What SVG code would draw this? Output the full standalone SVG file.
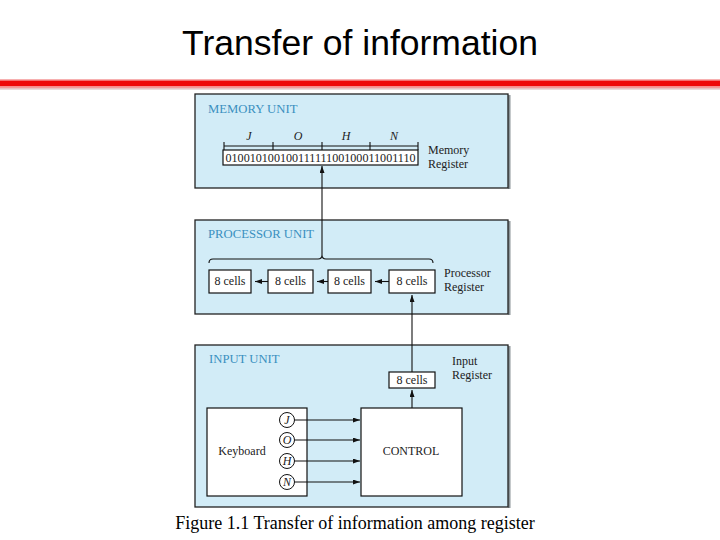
<svg xmlns="http://www.w3.org/2000/svg" width="720" height="540" viewBox="0 0 720 540">
<defs>
<marker id="ah" markerWidth="7" markerHeight="5" refX="7" refY="2.5" orient="auto" markerUnits="userSpaceOnUse"><path d="M0,0 L7,2.5 L0,5 Z" fill="#111"/></marker>
<style>
.unit{fill:#d2ecf7;stroke:#222;stroke-width:1.3}
.shadow{fill:#8c9498}
.ulabel{font-family:"Liberation Serif",serif;font-size:12.7px;fill:#3a90c0}
.box{fill:#fff;stroke:#111;stroke-width:1.2}
.t{font-family:"Liberation Serif",serif;font-size:12px;fill:#222}
.tc{font-family:"Liberation Serif",serif;font-size:12px;fill:#222;text-anchor:middle}
.it{font-family:"Liberation Serif",serif;font-size:12px;font-style:italic;fill:#222;text-anchor:middle}
.ln{stroke:#111;stroke-width:1.1;fill:none}
.title{font-family:"Liberation Sans",Arial,sans-serif;font-size:35.5px;fill:#000;text-anchor:middle}
.cap{font-family:"Liberation Serif",serif;font-size:18px;fill:#000;text-anchor:middle}
</style>
</defs>
<rect width="720" height="540" fill="#fff"/>
<text class="title" x="360" y="55">Transfer of information</text>
<rect x="0" y="79" width="720" height="1.5" fill="#f7b0b0"/>
<rect x="0" y="80.5" width="720" height="6" fill="#ee0a0a"/>
<rect x="0" y="86.5" width="720" height="2" fill="#f39a9a"/>
<rect x="0" y="88.5" width="720" height="1" fill="#d8b8b8"/>

<g id="memory-unit">
<rect class="shadow" x="508" y="95" width="2.5" height="94"/>
<rect class="unit" x="195" y="94" width="313" height="94"/>
<text class="ulabel" x="208" y="113">MEMORY UNIT</text>
</g>
<g id="memory-register">
<rect class="box" x="223" y="150" width="195" height="15"/>
<text class="t" x="225.5" y="162" textLength="190" lengthAdjust="spacingAndGlyphs">01001010010011111100100011001110</text>
<path class="ln" d="M224,146 H418 M224,142 V150 M273,142 V150 M322,142 V150 M370,142 V150 M418,142 V150"/>
<text class="it" x="249" y="140">J</text>
<text class="it" x="298" y="140">O</text>
<text class="it" x="346" y="140">H</text>
<text class="it" x="394" y="140">N</text>
<text class="t" x="428" y="154">Memory</text>
<text class="t" x="428" y="168">Register</text>
</g>

<g id="processor-unit">
<rect class="shadow" x="508" y="221" width="2.5" height="94"/>
<rect class="unit" x="195" y="220" width="313" height="94"/>
<text class="ulabel" x="208" y="238">PROCESSOR UNIT</text>
</g>
<g id="processor-register">
<path class="ln" d="M209,263 Q209,259 213,259 H318 Q322,259 322,255 Q322,259 326,259 H429 Q433,259 433,263"/>
<rect class="box" x="209" y="270" width="42" height="23"/>
<rect class="box" x="268" y="270" width="45" height="23"/>
<rect class="box" x="328" y="270" width="43" height="23"/>
<rect class="box" x="389" y="270" width="46" height="23"/>
<text class="tc" x="230" y="285">8 cells</text>
<text class="tc" x="290.5" y="285">8 cells</text>
<text class="tc" x="349.5" y="285">8 cells</text>
<text class="tc" x="412" y="285">8 cells</text>
<text class="t" x="444" y="277">Processor</text>
<text class="t" x="444" y="291">Register</text>
</g>

<g id="input-unit">
<rect class="shadow" x="508" y="346" width="2.5" height="162"/>
<rect class="unit" x="195" y="345" width="313" height="162"/>
<text class="ulabel" x="209" y="363">INPUT UNIT</text>
</g>
<g id="input-register">
<rect class="box" x="389" y="372" width="46" height="16"/>
<text class="tc" x="412" y="384">8 cells</text>
<text class="t" x="452" y="365">Input</text>
<text class="t" x="452" y="379">Register</text>
</g>
<g id="keyboard">
<rect class="box" x="207" y="408" width="100" height="88"/>
<text class="tc" x="242" y="455">Keyboard</text>
<circle cx="287" cy="420" r="7.5" fill="#fff" stroke="#111" stroke-width="1"/>
<circle cx="287" cy="440" r="7.5" fill="#fff" stroke="#111" stroke-width="1"/>
<circle cx="287" cy="461" r="7.5" fill="#fff" stroke="#111" stroke-width="1"/>
<circle cx="287" cy="482" r="7.5" fill="#fff" stroke="#111" stroke-width="1"/>
<text class="it" x="287" y="424">J</text>
<text class="it" x="287" y="444">O</text>
<text class="it" x="287" y="465">H</text>
<text class="it" x="287" y="486">N</text>
</g>
<g id="control">
<rect class="box" x="361" y="408" width="101" height="88"/>
<text class="tc" x="411" y="455">CONTROL</text>
</g>

<g id="connectors">
<line class="ln" x1="322" y1="255" x2="322" y2="166" marker-end="url(#ah)"/>
<line class="ln" x1="389" y1="281.5" x2="375" y2="281.5" marker-end="url(#ah)"/>
<line class="ln" x1="328" y1="281.5" x2="317" y2="281.5" marker-end="url(#ah)"/>
<line class="ln" x1="268" y1="281.5" x2="255" y2="281.5" marker-end="url(#ah)"/>
<line class="ln" x1="412" y1="372" x2="412" y2="295" marker-end="url(#ah)"/>
<line class="ln" x1="412" y1="408" x2="412" y2="390" marker-end="url(#ah)"/>
<line class="ln" x1="294.5" y1="420" x2="360" y2="420" marker-end="url(#ah)"/>
<line class="ln" x1="294.5" y1="440" x2="360" y2="440" marker-end="url(#ah)"/>
<line class="ln" x1="294.5" y1="461" x2="360" y2="461" marker-end="url(#ah)"/>
<line class="ln" x1="294.5" y1="482" x2="360" y2="482" marker-end="url(#ah)"/>
</g>

<text class="cap" x="355" y="529">Figure 1.1 Transfer of information among register</text>
</svg>
